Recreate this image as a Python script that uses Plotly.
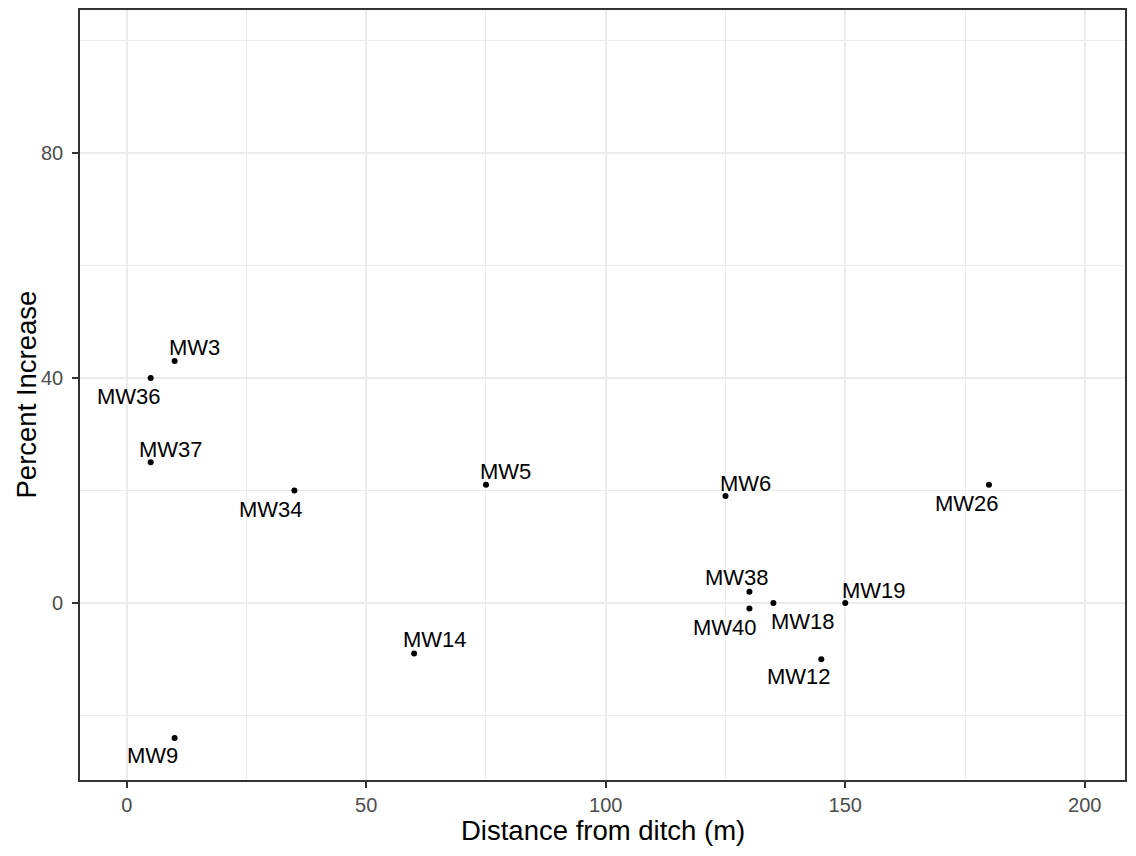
import plotly.graph_objects as go

wells = ["MW3", "MW36", "MW37", "MW34", "MW5", "MW6", "MW26", "MW38", "MW40",
         "MW18", "MW19", "MW12", "MW14", "MW9"]
distance = [10, 5, 5, 35, 75, 125, 180, 130, 130, 135, 150, 145, 60, 10]
pct_increase = [43, 40, 25, 20, 21, 19, 21, 2, -1, 0, 0, -10, -9, -24]
# label offsets (pixels) mimicking ggrepel placement
label_dx = [20, -22, 20, -23, 20, 20, -22, -12, -24, 30, 29, -22, 21, -22]
label_dy = [14, -19, 13, -19, 13, 13, -19, 14, -19, -19, 12, -17, 14, -18]

FONT = "Liberation Sans, Arial, sans-serif"

fig = go.Figure()
fig.add_trace(go.Scatter(
    x=distance, y=pct_increase, mode="markers",
    marker=dict(color="black", size=6),
    showlegend=False, hoverinfo="text", text=wells,
))

fig.add_hline(y=0, line=dict(color="#4d4d4d", width=1.6), layer="below")

for w, x, y, dx, dy in zip(wells, distance, pct_increase, label_dx, label_dy):
    fig.add_annotation(x=x, y=y, text=w, showarrow=False,
                       xshift=dx, yshift=dy,
                       font=dict(family=FONT, size=22, color="black"))

axis_common = dict(
    showline=True, mirror=True, linecolor="#333333", linewidth=1.6,
    ticks="outside", ticklen=6, tickwidth=1.6, tickcolor="#333333",
    tickfont=dict(family=FONT, size=20, color="#4d4d4d"),
    showgrid=True, gridcolor="#ebebeb", gridwidth=1.6,
    zeroline=False, automargin=False,
)

fig.update_xaxes(range=[-9.75, 208.4], tickvals=[0, 50, 100, 150, 200],
                 minor=dict(tickvals=[25, 75, 125, 175], showgrid=True,
                            gridcolor="#ebebeb", gridwidth=0.8, ticks=""),
                 **axis_common)
fig.update_yaxes(range=[-31.47, 105.42], tickvals=[-40, 0, 40, 80],
                 ticklabelstandoff=5,
                 minor=dict(tickvals=[-20, 20, 60, 100], showgrid=True,
                            gridcolor="#ebebeb", gridwidth=0.8, ticks=""),
                 **axis_common)

fig.add_annotation(xref="paper", yref="paper", x=0.5, y=0, yshift=-68,
                   text="Distance from ditch (m)", showarrow=False,
                   yanchor="bottom",
                   font=dict(family=FONT, size=27.5, color="black"))
fig.add_annotation(xref="paper", yref="paper", x=0, y=0.5, xshift=-72,
                   text="Percent Increase", showarrow=False, textangle=-90,
                   xanchor="left",
                   font=dict(family=FONT, size=27.5, color="black"))

fig.update_layout(
    width=1120, height=840,
    margin=dict(l=72, r=3, t=2, b=68),
    plot_bgcolor="white", paper_bgcolor="white",
)

fig.write_html("out.html")
